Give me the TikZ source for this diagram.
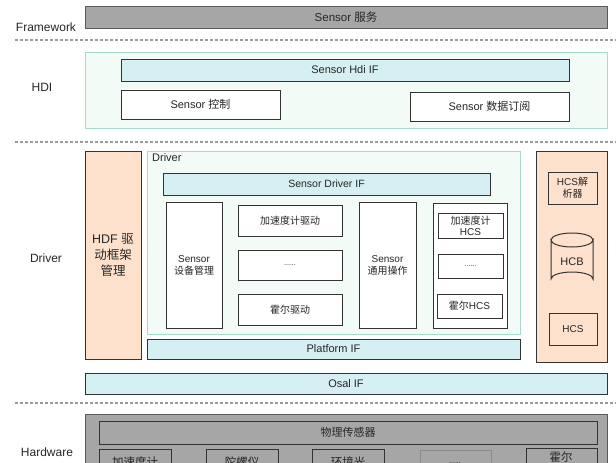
\documentclass[tikz,border=0pt]{standalone}
\usepackage{fontspec}
\setmainfont{Liberation Sans}
\newfontfamily\cjk{Noto Sans CJK SC}
\definecolor{graybox}{HTML}{A6A6A6}
\definecolor{grayline}{HTML}{5A5A5A}
\definecolor{mintfill}{HTML}{F3FBF7}
\definecolor{mintline}{HTML}{A6DCCB}
\definecolor{cyanfill}{HTML}{D5EFF3}
\definecolor{peachfill}{HTML}{FDE1CD}
\definecolor{darkline}{HTML}{333333}
\definecolor{txt}{HTML}{262626}
\definecolor{dashgray}{HTML}{9A9A9A}
\tikzset{
  base/.style={inner sep=0pt, outer sep=0pt, align=center, text=txt, line width=1pt,
    font=\fontsize{10}{12}\selectfont},
  graybx/.style={base, draw=grayline, fill=graybox, font=\fontsize{11.5}{13}\selectfont},
  mintbx/.style={base, draw=mintline, fill=mintfill},
  cyanbx/.style={base, draw=darkline, fill=cyanfill, font=\fontsize{11}{13}\selectfont},
  peachbx/.style={base, draw=darkline, fill=peachfill},
  whitebx/.style={base, draw=darkline, fill=white},
  hwbx/.style={base, draw=darkline, fill=graybox},
  layerlbl/.style={inner sep=0pt, text=txt, font=\fontsize{12}{14}\selectfont},
  sep/.style={draw=dashgray, line width=1.2pt, dash pattern=on 3pt off 2pt},
}
\newcommand{\bx}[7][]{\node[#1, anchor=north west, minimum width={(#5-#3)*1pt}, minimum height={(#6-#4)*1pt}] (#2) at (#3,#4) {#7};}
\begin{document}
\begin{tikzpicture}[x=1pt, y=-1pt]
\useasboundingbox (0,0) rectangle (616,463);
\clip (0,0) rectangle (616,463);
% layer labels
\node[layerlbl] (lfw) at (46,27.5) {Framework};
\node[layerlbl] (lhdi) at (42,87) {HDI};
\node[layerlbl] (ldrv) at (46,258) {Driver};
\node[layerlbl] (lhw) at (47,452) {Hardware};
% separators
\coordinate (s1a) at (15,40); \coordinate (s1b) at (616,40);
\coordinate (s2a) at (15,142); \coordinate (s2b) at (616,142);
\coordinate (s3a) at (15,403); \coordinate (s3b) at (616,403);
\draw[sep] (s1a) -- (s1b);
\draw[sep] (s2a) -- (s2b);
\draw[sep] (s3a) -- (s3b);
% Framework
\bx[graybx]{svc}{85}{6}{607}{28}{Sensor {\cjk 服务}}
% HDI
\bx[mintbx]{hdi}{85}{52}{607}{128}{}
\bx[cyanbx]{hdiif}{121}{59}{569}{81}{Sensor Hdi IF}
\bx[whitebx, font=\fontsize{11}{13}\selectfont]{ctrl}{121}{90}{280}{119}{Sensor {\cjk 控制}}
\bx[whitebx, font=\fontsize{11}{13}\selectfont]{sub}{410}{92}{569}{121}{Sensor {\cjk 数据订阅}}
% Driver layer
\bx[peachbx, font=\fontsize{12.5}{16}\selectfont]{hdf}{85}{151}{141}{359}{HDF {\cjk 驱}\\{\cjk 动框架}\\{\cjk 管理}}
\bx[mintbx]{drv}{147}{151}{520}{334}{}
\node[layerlbl, anchor=west, font=\fontsize{11}{13}\selectfont] (drvlbl) at (152,158) {Driver};
\bx[cyanbx, font=\fontsize{10.5}{12}\selectfont]{drvif}{163}{173}{490}{195}{Sensor Driver IF}
\bx[whitebx]{devmgr}{166}{202}{222}{328}{Sensor\\{\cjk 设备管理}}
\bx[whitebx]{accdrv}{238}{205}{342}{236}{\cjk 加速度计驱动}
\bx[whitebx, font=\fontsize{7}{8}\selectfont]{dotdrv}{238}{250}{342}{280}{......}
\bx[whitebx]{halldrv}{238}{294}{342}{325}{\cjk 霍尔驱动}
\bx[whitebx]{genop}{359}{202}{416}{328}{Sensor\\{\cjk 通用操作}}
\bx[whitebx]{hcsbox}{433}{203}{507}{328}{}
\bx[whitebx, font=\fontsize{10}{11}\selectfont]{acchcs}{438}{213}{503}{238}{{\cjk 加速度计}\\HCS}
\bx[whitebx, font=\fontsize{7}{8}\selectfont]{dothcs}{438}{254}{503}{278}{......}
\bx[whitebx]{hallhcs}{437}{294}{502}{318}{{\cjk 霍尔}HCS}
\bx[cyanbx]{platif}{147}{339}{520}{359}{Platform IF}
\bx[peachbx]{hcsside}{536}{151}{607}{362}{}
\bx[whitebx, fill=peachfill]{parser}{548}{172}{597}{204}{HCS{\cjk 解}\\{\cjk 析器}}
% HCB cylinder
\draw[darkline, line width=1pt, fill=peachfill]
  (551,240) -- (551,279) arc[start angle=180, end angle=360, x radius=21, y radius=7]
  -- (593,240) arc[start angle=0, end angle=180, x radius=21, y radius=7] -- cycle;
\draw[darkline, line width=1pt] (551,240) arc[start angle=180, end angle=360, x radius=21, y radius=7];
\node[base, font=\fontsize{11}{13}\selectfont] (hcb) at (572,262) {HCB};
\bx[whitebx, fill=peachfill]{hcs}{549}{313}{597}{345}{HCS}
\bx[cyanbx]{osal}{85}{373}{607}{394}{Osal IF}
% Hardware
\bx[hwbx, draw=grayline]{hw}{85}{414}{607}{480}{}
\bx[hwbx, font=\fontsize{11}{13}\selectfont]{phys}{99}{421}{597}{444}{\cjk 物理传感器}
\bx[hwbx]{hacc}{99}{449}{171}{480}{}
\bx[hwbx]{hgyro}{206}{449}{278}{480}{}
\bx[hwbx]{hamb}{312}{449}{384}{480}{}
\bx[hwbx, draw=grayline!70]{hdot}{420}{450}{491}{480}{}
\bx[hwbx]{hhall}{526}{448}{597}{480}{}
\node[base, font=\fontsize{11.5}{13}\selectfont] (tacc) at (135,462) {\cjk 加速度计};
\node[base, font=\fontsize{11.5}{13}\selectfont] (tgyro) at (242,462) {\cjk 陀螺仪};
\node[base, font=\fontsize{11.5}{13}\selectfont] (tamb) at (348,462) {\cjk 环境光};
\node[base, font=\fontsize{7}{8}\selectfont] (tdot) at (455,463) {......};
\node[base, font=\fontsize{11.5}{13}\selectfont] (thall) at (561,457) {\cjk 霍尔};
\end{tikzpicture}
\end{document}
